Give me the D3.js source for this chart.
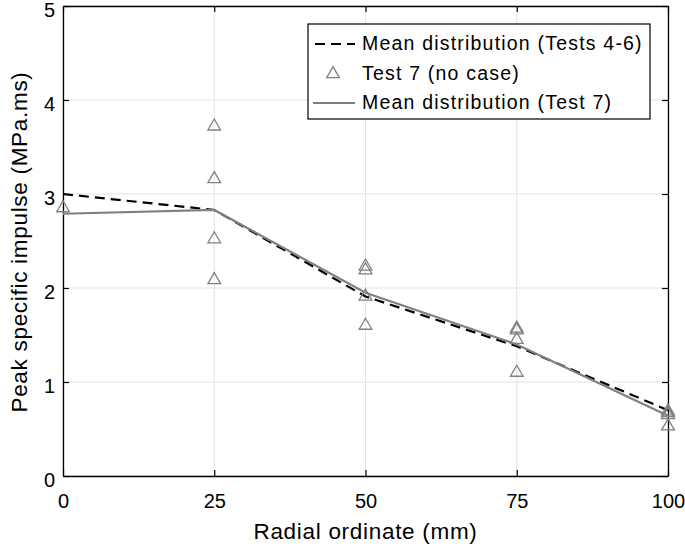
<!DOCTYPE html>
<html><head><meta charset="utf-8">
<script src="https://cdn.jsdelivr.net/npm/d3@7"></script>
<style>body{margin:0;background:#fff}svg{display:block}text{font-family:"Liberation Sans",Arial,sans-serif}</style>
</head><body>
<svg id="c" width="685" height="547"></svg>
<script>
const xTicks = [0, 25, 50, 75, 100];
const yTicks = [0, 1, 2, 3, 4, 5];
const meanX = [0, 25, 50, 75, 100];
const meanTests46 = [3.0, 2.83, 1.91, 1.38, 0.70];
const meanTest7 = [2.79, 2.83, 1.95, 1.40, 0.64];
const test7X = [0, 25, 25, 25, 25, 50, 50, 50, 50, 75, 75, 75, 75, 100, 100, 100, 100];
const test7Y = [2.85, 3.72, 3.16, 2.52, 2.085, 2.23, 2.19, 1.91, 1.60, 1.57, 1.55, 1.45, 1.10, 0.69, 0.67, 0.65, 0.53];
const legendLabels = ["Mean distribution (Tests 4-6)", "Test 7 (no case)", "Mean distribution (Test 7)"];

const svg = d3.select("#c");
const L = 63, R = 668, T = 6, B = 476;
const x = d3.scaleLinear().domain([0, 100]).range([L, R]);
const y = d3.scaleLinear().domain([0, 5]).range([B, T]);

// grid
const g = svg.append("g");
g.selectAll(".gx").data(xTicks).join("line")
  .attr("x1", d => x(d)).attr("x2", d => x(d)).attr("y1", T).attr("y2", B)
  .attr("stroke", "#e3e3e3").attr("stroke-width", 1);
g.selectAll(".gy").data(yTicks).join("line")
  .attr("y1", d => y(d)).attr("y2", d => y(d)).attr("x1", L).attr("x2", R)
  .attr("stroke", "#e3e3e3").attr("stroke-width", 1);

// axes
const fmt = d3.format("d");
const ax = svg.append("g").attr("transform", `translate(0,${B})`)
  .call(d3.axisBottom(x).tickValues(xTicks).tickFormat(fmt).tickSizeInner(-6).tickSizeOuter(0).tickPadding(18));
const ay = svg.append("g").attr("transform", `translate(${L},0)`)
  .call(d3.axisLeft(y).tickValues(yTicks).tickFormat(fmt).tickSizeInner(-6).tickSizeOuter(0).tickPadding(8));
const at = svg.append("g").attr("transform", `translate(0,${T})`)
  .call(d3.axisTop(x).tickValues(xTicks).tickFormat("").tickSizeInner(-6).tickSizeOuter(0));
const ar = svg.append("g").attr("transform", `translate(${R},0)`)
  .call(d3.axisRight(y).tickValues(yTicks).tickFormat("").tickSizeInner(-6).tickSizeOuter(0));
[ax, ay, at, ar].forEach(a => {
  a.select(".domain").attr("stroke", "#000").attr("stroke-width", 1.3);
  a.selectAll(".tick line").attr("stroke", "#000").attr("stroke-width", 1.2);
  a.selectAll("text").attr("font-size", 20).attr("fill", "#000").attr("font-family", '"Liberation Sans",Arial,sans-serif');
});
ay.selectAll("text").attr("dy", "0.5em");

// lines
const line = d3.line().x(d => x(d[0])).y(d => y(d[1]));
svg.append("path").datum(meanX.map((v, i) => [v, meanTests46[i]]))
  .attr("d", line).attr("fill", "none").attr("stroke", "#000").attr("stroke-width", 2.2).attr("stroke-dasharray", "10,6");
svg.append("path").datum(meanX.map((v, i) => [v, meanTest7[i]]))
  .attr("d", line).attr("fill", "none").attr("stroke", "#808080").attr("stroke-width", 2.2);

// triangles
const tri = d3.symbol().type(d3.symbolTriangle).size(70);
svg.selectAll(".tri").data(test7X.map((v, i) => [v, test7Y[i]])).join("path")
  .attr("d", tri).attr("transform", d => `translate(${x(d[0])},${y(d[1])})`)
  .attr("fill", "none").attr("stroke", "#808080").attr("stroke-width", 1.3);

// axis titles
svg.append("text").attr("x", (L + R) / 2).attr("y", 539).attr("text-anchor", "middle")
  .attr("font-size", 22.5).attr("letter-spacing", 0.7).text("Radial ordinate (mm)");
svg.append("text").attr("transform", `translate(27,242) rotate(-90)`).attr("text-anchor", "middle")
  .attr("font-size", 22.5).attr("letter-spacing", 0.7).text("Peak specific impulse (MPa.ms)");

// legend
const lg = svg.append("g");
lg.append("rect").attr("x", 308).attr("y", 24).attr("width", 342).attr("height", 95)
  .attr("fill", "#fff").attr("stroke", "#000").attr("stroke-width", 1.2);
const rowsY = [44, 74, 103];
lg.append("line").attr("x1", 313).attr("x2", 355).attr("y1", rowsY[0]).attr("y2", rowsY[0])
  .attr("stroke", "#000").attr("stroke-width", 2.2).attr("stroke-dasharray", "10,6").attr("stroke-dashoffset", -2);
lg.append("path").attr("d", tri).attr("transform", `translate(333,${rowsY[1]})`)
  .attr("fill", "none").attr("stroke", "#808080").attr("stroke-width", 1.3);
lg.append("line").attr("x1", 313).attr("x2", 355).attr("y1", rowsY[2]).attr("y2", rowsY[2])
  .attr("stroke", "#808080").attr("stroke-width", 2.2);
lg.selectAll(".lt").data(legendLabels).join("text")
  .attr("x", 362).attr("y", (d, i) => rowsY[i] + 5.8).attr("font-size", 19.5).attr("letter-spacing", 1.2).text(d => d);
</script>
</body></html>
